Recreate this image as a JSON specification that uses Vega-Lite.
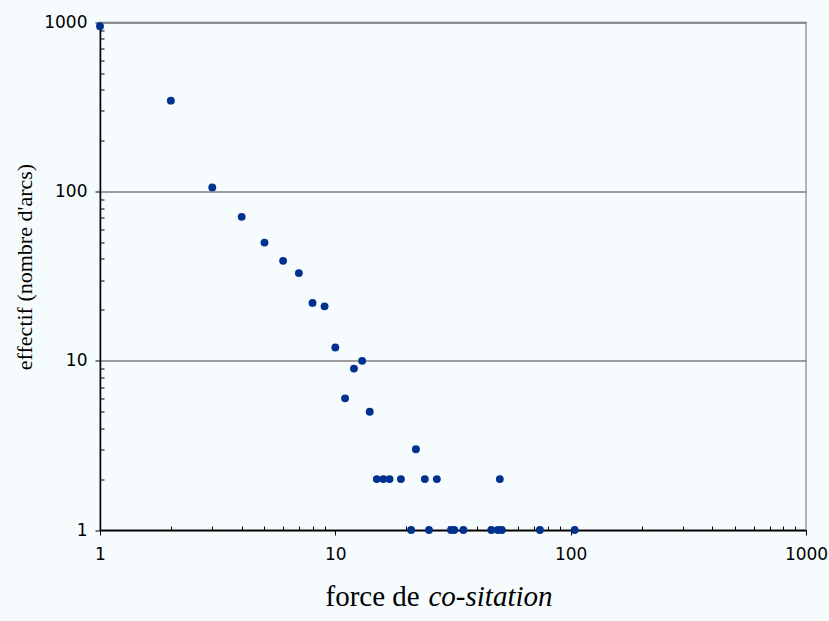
{
  "$schema": "https://vega.github.io/schema/vega-lite/v6.json",
  "width": 706,
  "height": 507.5,
  "autosize": {"type": "none"},
  "padding": {"left": 100, "top": 22.5, "right": 23, "bottom": 91},
  "background": "#F6FCFD",
  "config": {"view": {"fill": "#F6FCFD", "stroke": "#b4b4b4", "strokeWidth": 2}},
  "data": {
    "values": [
      {"force": 1, "effectif": 950},
      {"force": 2, "effectif": 345},
      {"force": 3, "effectif": 106},
      {"force": 4, "effectif": 71},
      {"force": 5, "effectif": 50},
      {"force": 6, "effectif": 39},
      {"force": 7, "effectif": 33},
      {"force": 8, "effectif": 22},
      {"force": 9, "effectif": 21},
      {"force": 10, "effectif": 12},
      {"force": 11, "effectif": 6},
      {"force": 12, "effectif": 9},
      {"force": 13, "effectif": 10},
      {"force": 14, "effectif": 5},
      {"force": 15, "effectif": 2},
      {"force": 16, "effectif": 2},
      {"force": 17, "effectif": 2},
      {"force": 19, "effectif": 2},
      {"force": 22, "effectif": 3},
      {"force": 24, "effectif": 2},
      {"force": 27, "effectif": 2},
      {"force": 50, "effectif": 2},
      {"force": 21, "effectif": 1},
      {"force": 25, "effectif": 1},
      {"force": 31, "effectif": 1},
      {"force": 32, "effectif": 1},
      {"force": 35, "effectif": 1},
      {"force": 46, "effectif": 1},
      {"force": 49, "effectif": 1},
      {"force": 51, "effectif": 1},
      {"force": 74, "effectif": 1},
      {"force": 104, "effectif": 1}
    ]
  },
  "layer": [
    {
      "mark": {"type": "point", "filled": true, "size": 62, "color": "#00318F", "opacity": 1},
      "encoding": {
        "x": {
          "field": "force",
          "type": "quantitative",
          "scale": {"type": "log", "domain": [1, 1000], "nice": false},
          "axis": {
            "orient": "bottom",
            "title": "force de",
            "titleFont": "Liberation Serif",
            "titleFontSize": 29,
            "titleFontWeight": "normal",
            "titleColor": "black",
            "titleX": 225,
            "titleY": 75,
            "titleAlign": "left",
            "titleBaseline": "alphabetic",
            "values": [1,2,3,4,5,6,7,8,9,10,20,30,40,50,60,70,80,90,100,200,300,400,500,600,700,800,900,1000],
            "labelExpr": "indexof([1,10,100,1000], datum.value) >= 0 ? format(datum.value, 'd') : ''",
            "labelFlush": false,
            "labelOverlap": false,
            "labelFont": "DejaVu Sans",
            "labelFontSize": 17,
            "labelColor": "black",
            "labelPadding": 11,
            "tickColor": "black",
            "tickWidth": 1,
            "tickSize": {"condition": {"test": "indexof([1,10,100,1000], datum.value) >= 0", "value": 5}, "value": -4},
            "domainColor": "black",
            "domainWidth": 1.5,
            "grid": false
          }
        },
        "y": {
          "field": "effectif",
          "type": "quantitative",
          "scale": {"type": "log", "domain": [1, 1000], "nice": false},
          "axis": {
            "title": "effectif (nombre d'arcs)",
            "titleFont": "Liberation Serif",
            "titleFontSize": 22,
            "titleFontWeight": "normal",
            "titleColor": "black",
            "titleX": -69,
            "titleY": 244,
            "titleAngle": -90,
            "titleAlign": "center",
            "titleBaseline": "alphabetic",
            "values": [1,2,3,4,5,6,7,8,9,10,20,30,40,50,60,70,80,90,100,200,300,400,500,600,700,800,900,1000],
            "labelExpr": "indexof([1,10,100,1000], datum.value) >= 0 ? format(datum.value, 'd') : ''",
            "labelOverlap": false,
            "labelFont": "DejaVu Sans",
            "labelFontSize": 17,
            "labelColor": "black",
            "labelPadding": 8,
            "tickColor": "black",
            "tickWidth": 1,
            "tickSize": {"condition": {"test": "indexof([1,10,100,1000], datum.value) >= 0", "value": 5}, "value": -4},
            "domainColor": "black",
            "domainWidth": 1.5,
            "grid": true,
            "gridColor": "#7d7d7d",
            "gridWidth": 1.5,
            "gridOpacity": {"condition": {"test": "indexof([1,10,100,1000], datum.value) >= 0", "value": 1}, "value": 0}
          }
        }
      }
    },
    {
      "mark": {"type": "point", "opacity": 0},
      "encoding": {
        "x": {
          "field": "force",
          "type": "quantitative",
          "scale": {"type": "log", "domain": [1, 1000], "nice": false},
          "axis": {
            "orient": "bottom",
            "title": "co-sitation",
            "titleFont": "Liberation Serif",
            "titleFontSize": 29,
            "titleFontStyle": "italic",
            "titleFontWeight": "normal",
            "titleColor": "black",
            "titleX": 328,
            "titleY": 75,
            "titleAlign": "left",
            "titleBaseline": "alphabetic",
            "domain": false,
            "ticks": false,
            "labels": false,
            "grid": false
          }
        }
      }
    }
  ],
  "resolve": {"axis": {"x": "independent"}}
}
